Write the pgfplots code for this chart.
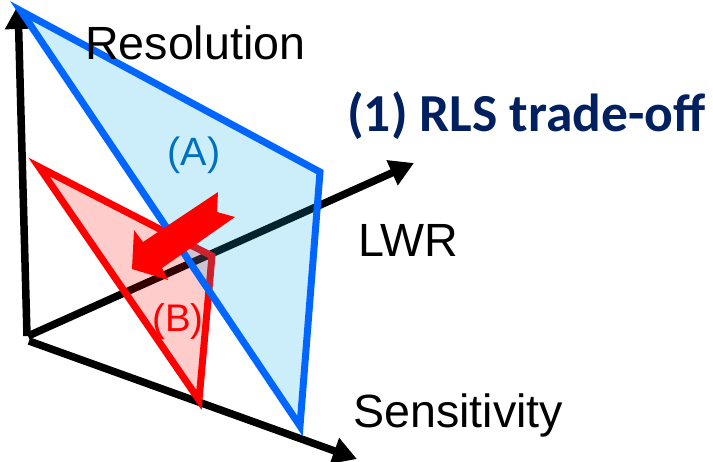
\documentclass[border=0pt]{standalone}
\usepackage{pgfplots}
\pgfplotsset{compat=1.18}
\usetikzlibrary{arrows.meta}
\usepackage{fontspec}
\setmainfont{Liberation Sans}
\newfontfamily\calfont{Carlito}
\definecolor{blueline}{RGB}{0,102,255}
\definecolor{bluefill}{RGB}{0,170,230}
\definecolor{atext}{RGB}{0,112,192}
\definecolor{navy}{RGB}{0,32,96}
\begin{document}
\begin{tikzpicture}
\begin{axis}[name=ax, scale only axis, width=713bp, height=462bp,
  xmin=0, xmax=713, ymin=0, ymax=462, y dir=reverse, hide axis, clip=false]
% axes
\addplot[black, line width=7.5bp, -{Triangle[length=24bp,width=26bp]}] coordinates {(27,336) (18,5)};
\addplot[black, line width=7.5bp, -{Triangle[length=24bp,width=26bp]}] coordinates {(28,336) (414,163)};
\addplot[black, line width=7.5bp, -{Triangle[length=24bp,width=26bp]}] coordinates {(29,341) (357,459)};
% (B) triangle
\addplot[draw=red, line width=7bp, line join=miter, fill=red, fill opacity=0.2] coordinates {(39,167) (212,256) (199,400)} -- cycle;
% (A) triangle
\addplot[draw=blueline, line width=7bp, line join=miter, fill=bluefill, fill opacity=0.2] coordinates {(21,11) (320,172) (300,426)} -- cycle;
% red block arrow
\addplot[draw=none, fill=red] coordinates {(218,192) (217,212) (235,217) (162,268) (168,280) (132,269) (134,230) (143,242)} -- cycle;
\end{axis}
\pgfresetboundingbox
\path (ax.south west) rectangle (ax.north east);
\begin{scope}[shift={(ax.north west)}, x=1bp, y=-1bp]
\node[anchor=base west, inner sep=0pt, font=\fontsize{46.6bp}{56bp}\selectfont] at (85,60) {Resolution};
\node[anchor=center, inner sep=0pt, text=atext, font=\fontsize{39.5bp}{47bp}\selectfont] at (194,155) {(A)};
\node[anchor=center, inner sep=0pt, text=red, font=\fontsize{38.5bp}{46bp}\selectfont] at (178,322) {(B)};
\node[anchor=base west, inner sep=0pt, font=\fontsize{46.6bp}{56bp}\selectfont] at (358,257) {LWR};
\node[anchor=base west, inner sep=0pt, font=\fontsize{46.6bp}{56bp}\selectfont] at (353,428) {Sensitivity};
\node[anchor=base west, inner sep=0pt, text=navy, font=\calfont\bfseries\fontsize{53.5bp}{64bp}\selectfont] at (347,132) {(1) RLS trade-off};
\end{scope}
\end{tikzpicture}
\end{document}
